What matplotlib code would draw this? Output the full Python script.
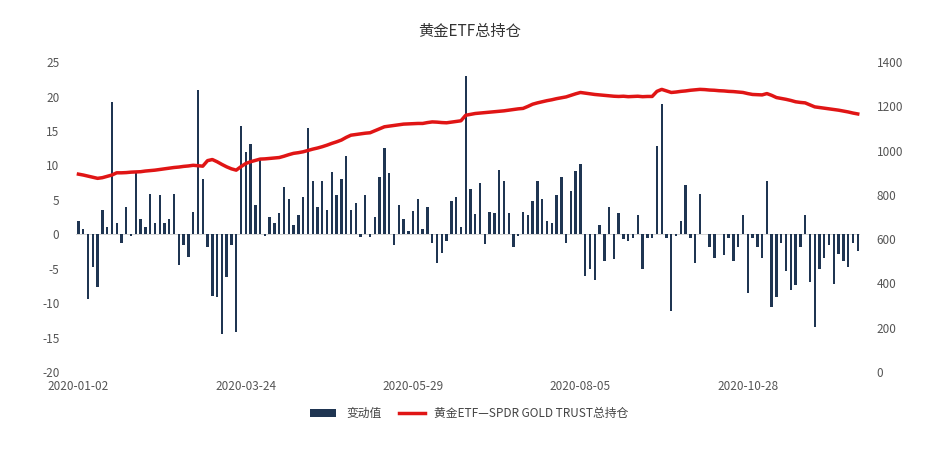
import matplotlib
matplotlib.use("Agg")
import matplotlib.pyplot as plt
import numpy as np

plt.rcParams['font.family'] = ['Noto Sans CJK SC', 'DejaVu Sans']
plt.rcParams['axes.unicode_minus'] = False

changes = [1.9,0.7,-9.4,-4.8,-7.7,3.6,1.0,19.2,1.6,-1.3,4.0,-0.2,9.1,2.2,1.0,5.9,1.6,5.7,1.6,2.2,5.9,-4.5,-1.5,-3.3,3.3,21.0,8.1,-1.8,-8.9,-9.1,-14.5,-6.2,-1.5,-14.2,15.7,11.9,13.1,4.2,10.8,-0.2,2.5,
           1.6,3.1,6.9,5.1,1.4,2.8,5.4,15.4,7.7,4.0,7.7,3.6,9.0,5.7,8.1,11.4,3.6,4.5,-0.4,5.7,-0.4,2.5,8.3,12.6,8.9,-1.5,4.2,2.2,0.5,3.4,5.1,0.7,4.0,-1.3,-4.2,-2.7,-1.0,4.9,5.4,1.1,23.0,6.6,
           3.0,7.4,-1.4,3.3,3.1,9.3,7.7,3.1,-1.8,-0.2,3.3,2.8,4.8,7.7,5.1,1.9,1.6,5.7,8.3,-1.3,6.3,9.2,10.2,-6.0,-5.1,-6.7,1.3,-3.9,4.0,-3.6,3.1,-0.7,-1.0,-0.6,2.8,-5.1,-0.5,-0.5,12.8,18.9,-0.5,
           -11.1,-0.2,1.9,7.1,-0.5,-4.1,5.9,0.1,-1.9,-3.5,0.1,-3.0,-0.6,-3.9,-1.8,2.8,-8.5,-0.6,-1.8,-3.5,7.7,-10.6,-9.1,-1.3,-5.3,-8.1,-7.4,-1.8,2.8,-7.0,-13.5,-5.1,-3.5,-1.5,-7.2,-2.9,-3.9,-4.8,-1.3,-2.4]

holdings = [894,890,885,880,875,878,884,890,900,900,
            901,903,904,905,908,910,912,915,918,921,
            924,926,929,931,934,932,930,955,960,950,
            938,927,918,912,928,942,950,956,962,963,
            965,967,969,975,982,988,991,995,1001,1007,
            1012,1018,1025,1033,1040,1048,1060,1070,1073,1076,
            1079,1081,1090,1099,1108,1111,1114,1117,1120,1121,
            1122,1123,1123,1127,1130,1129,1127,1126,1129,1132,
            1135,1160,1164,1168,1170,1172,1174,1176,1178,1180,
            1183,1186,1189,1191,1200,1210,1216,1221,1226,1230,
            1235,1239,1243,1250,1257,1263,1260,1257,1254,1252,
            1250,1248,1246,1245,1246,1244,1245,1246,1244,1245,
            1245,1268,1277,1270,1263,1265,1268,1270,1273,1275,
            1277,1276,1274,1273,1271,1270,1268,1267,1265,1263,
            1258,1254,1253,1252,1258,1250,1240,1236,1232,1227,
            1221,1218,1216,1207,1198,1195,1192,1189,1186,1183,
            1179,1175,1170,1166]

tick_pos = [0, 35, 70, 105, 140]
tick_labels = ["2020-01-02", "2020-03-24", "2020-05-29", "2020-08-05", "2020-10-28"]

fig = plt.figure(figsize=(9.39, 4.57), dpi=100)
ax = fig.add_axes([0.081, 0.186, 0.835, 0.678])
ax2 = ax.twinx()
x = np.arange(len(changes))
ax.bar(x, changes, width=0.5, color='#1f3552', label='变动值', zorder=2)
ax2.plot(np.arange(len(holdings)), holdings, color='#e01515', lw=2.5, label='黄金ETF—SPDR GOLD TRUST总持仓', zorder=3)

ax.set_xlim(-0.5, len(changes) - 0.5)
ax.set_ylim(-20, 25)
ax.set_yticks(range(-20, 26, 5))
ax2.set_ylim(0, 1400)
ax2.set_yticks(range(0, 1401, 200))
ax.set_xticks(tick_pos)
ax.set_xticklabels(tick_labels)
for a in (ax, ax2):
    for s in a.spines.values():
        s.set_visible(False)
    a.tick_params(length=0, labelsize=8.5, colors='#555555')
ax.tick_params(axis='y', pad=12)
ax2.tick_params(axis='y', pad=12)
ax.tick_params(axis='x', pad=6)
ax.axhline(0, color='#cccccc', lw=0.6, zorder=1)

fig.text(0.5, 0.93, '黄金ETF总持仓', ha='center', va='center', fontsize=11, color='#333333')
h1, l1 = ax.get_legend_handles_labels()
h2, l2 = ax2.get_legend_handles_labels()
fig.legend(h1 + h2, l1 + l2, loc='center', bbox_to_anchor=(0.5, 0.095), ncol=2, frameon=False,
           fontsize=8.5, handlelength=2.2, columnspacing=1.5, labelcolor='#444444')
fig.savefig('out.png', dpi=100)
